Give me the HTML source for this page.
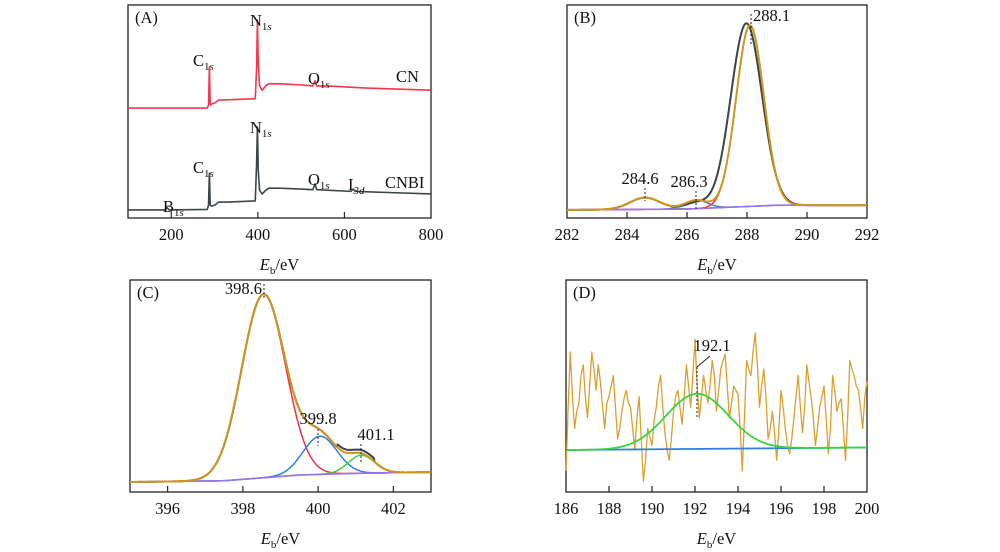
<!DOCTYPE html>
<html><head><meta charset="utf-8">
<style>
body{margin:0;background:#fff;}
svg{display:block;font-family:"Liberation Serif",serif;}
.tk{font-size:16.5px;fill:#111;}
</style></head>
<body>
<svg id="chart" width="1000" height="552" viewBox="0 0 1000 552">
</svg>
<script>
// ---- Panel A survey data (eV, intensity %) ----
const cnEv =  [100,283,286,288,290,293,300,310,330,394,397,399,401,404,410,418,425,450,500,527,532,536,560,650,800];
const cnInt = [51.6,51.6,53,71,53,53.5,54,55.4,55.5,56,70,93,72,62,60,62,63,63,62.5,62,64.5,62,62,61,60];
const cnbiEv =  [100,185,190,195,283,286,288,290,293,300,310,330,394,397,399,401,404,410,418,425,450,500,527,532,536,615,620,625,800];
const cnbiInt = [3.8,3.8,4.9,3.8,4,6,21,6,5.6,6,7.5,7.5,8,25,42.7,22,13,11.3,13,14,14,13.6,13.3,16,13.3,12.5,13.6,12.5,11.3];
// ---- Panel B C1s fit components ----
const bCenters = [284.6, 286.3, 288.1];
const bAmps = [5.5, 4, 85];
const bSigmas = [0.5, 0.38, 0.46];
const bBaseEv = [282, 286, 289, 292];
const bBaseInt = [3.8, 4.2, 6, 6];
// ---- Panel C N1s fit components ----
const cCenters = [398.55, 400.05, 401.15];
const cAmps = [86.5, 18, 8.5];
const cSigmas = [0.58, 0.45, 0.35];
const cBaseEv = [395, 397.5, 399.5, 401, 403];
const cBaseInt = [4.7, 5.3, 8, 8.8, 9.4];
// ---- Panel D B1s ----
const dCenter = 192.1, dAmp = 26, dSigma = 1.45;
const dBaseEv = [186, 200];
const dBaseInt = [19.8, 21];
const dRawStart = 186, dRawStep = 0.1;
const dRaw = [10,40,66,45,30,38,42,55,60,45,35,50,66,58,48,60,52,40,30,42,45,50,55,40,25,30,38,44,48,42,40,30,20,35,45,25,5,15,30,26,22,34,40,50,55,40,28,20,15,25,38,45,48,40,32,45,60,50,40,55,72,50,35,45,55,48,42,50,62,55,38,48,58,62,65,50,35,42,50,48,46,30,10,35,62,58,55,66,75,60,40,50,58,45,25,30,38,28,15,30,48,40,30,22,18,25,35,45,55,40,28,40,60,52,45,35,22,30,40,45,50,35,18,30,55,48,38,42,44,30,15,35,62,58,55,50,48,40,30,45,52];

const NS="http://www.w3.org/2000/svg";
const svg=document.getElementById('chart');
function mk(tag,attrs,parent){const e=document.createElementNS(NS,tag);for(const k in attrs)e.setAttribute(k,attrs[k]);(parent||svg).appendChild(e);return e;}
function interp(xs,ys,x){if(x<=xs[0])return ys[0];for(let i=1;i<xs.length;i++){if(x<=xs[i]){const t=(x-xs[i-1])/(xs[i]-xs[i-1]);return ys[i-1]+t*(ys[i]-ys[i-1]);}}return ys[ys.length-1];}
function gauss(x,c,a,s){return a*Math.exp(-0.5*((x-c)/s)**2);}

function panel(p){
  const g=mk('g',{});
  
  
  p.sx=v=>p.x0+(v-p.xmin)/(p.xmax-p.xmin)*(p.x1-p.x0);
  p.sy=v=>p.y1-v/100*(p.y1-p.y0);
  p.g=g;
  return p;
}
function frame(p){
  const r=mk('rect',{x:p.x0,y:p.y0,width:p.x1-p.x0,height:p.y1-p.y0,fill:'none',stroke:'#222','stroke-width':1.3},p.g);
  
  
  p.ticks.forEach(t=>{
    const x=p.sx(t);
    if(x>p.x0+1&&x<p.x1-1){const l=mk('line',{x1:x,x2:x,y1:p.y1,y2:p.y1-6,stroke:'#222','stroke-width':1.2},p.g);
    
    }
    const tx=mk('text',{x:x,y:p.y1+22,'text-anchor':'middle',class:'tk'},p.g);tx.textContent=t;
    
    
  });
  const at=mk('text',{x:(p.x0+p.x1)/2,y:p.y1+52,'text-anchor':'middle',class:'tk'},p.g);
  at.innerHTML='<tspan font-style="italic">E</tspan><tspan font-size="11" dy="4">b</tspan><tspan dy="-4">/eV</tspan>';
  
  
  const pl=mk('text',{x:p.x0+7,y:p.y0+18,class:'tk'},p.g);pl.textContent=p.label;
  
  
}
function line(p,pts,color,w,name){
  const d=pts.map((q,i)=>(i?'L':'M')+p.sx(q[0]).toFixed(2)+','+p.sy(q[1]).toFixed(2)).join('');
  const e=mk('path',{d:d,fill:'none',stroke:color,'stroke-width':w,'stroke-linejoin':'round'},p.g);
  
  
}
function sample(p,f,n){const a=[];for(let i=0;i<=n;i++){const x=p.xmin+(p.xmax-p.xmin)*i/n;a.push([x,f(x)]);}return a;}
function txt(p,x,y,html,anchor,name){const t=mk('text',{x:x,y:y,'text-anchor':anchor||'start',class:'tk'},p.g);t.innerHTML=html;
  
  }
function dash(p,x,ya,yb){const l=mk('line',{x1:x,x2:x,y1:ya,y2:yb,stroke:'#222','stroke-width':1,'stroke-dasharray':'2,2'},p.g);
  
  }
const sub=s=>'<tspan font-size="11" font-style="italic" dy="4">'+s+'</tspan>';
const sub1=s=>'<tspan font-size="11" dy="4">1<tspan font-style="italic">'+s+'</tspan></tspan>';

// Panel A
const A=panel({name:'panel-a-survey',label:'(A)',x0:128,x1:431,y0:5,y1:218,xmin:100,xmax:800,ticks:[200,400,600,800]});
frame(A);
line(A,cnEv.map((v,i)=>[v,cnInt[i]]),'#f0384e',1.6,'cn-spectrum');
line(A,cnbiEv.map((v,i)=>[v,cnbiInt[i]]),'#3c4448',1.6,'cnbi-spectrum');
txt(A,193,66,'C'+sub1('s'),'start','c1s-label-cn');
txt(A,250,26,'N'+sub1('s'),'start','n1s-label-cn');
txt(A,308,84,'O'+sub1('s'),'start','o1s-label-cn');
txt(A,396,82,'CN','start','cn-label');
txt(A,250,133,'N'+sub1('s'),'start','n1s-label-cnbi');
txt(A,193,173,'C'+sub1('s'),'start','c1s-label-cnbi');
txt(A,308,185,'O'+sub1('s'),'start','o1s-label-cnbi');
txt(A,348,190,'I'+sub('3d'),'start','i3d-label');
txt(A,385,188,'CNBI','start','cnbi-label');
txt(A,163,212,'B'+sub1('s'),'start','b1s-label');

// Panel B
const B=panel({name:'panel-b-c1s',label:'(B)',x0:567,x1:867,y0:5,y1:218,xmin:282,xmax:292,ticks:[282,284,286,288,290,292]});
frame(B);
const bBase=x=>interp(bBaseEv,bBaseInt,x);
const bFit=x=>bBase(x)+bCenters.reduce((s,c,i)=>s+gauss(x,c,bAmps[i],bSigmas[i]),0);
const bRaw=x=>bBase(x)+gauss(x,bCenters[0],bAmps[0],bSigmas[0])+gauss(x,bCenters[1],bAmps[1]*0.7,bSigmas[1])+gauss(x,bCenters[2]-0.12,bAmps[2]+1,bSigmas[2]+0.06);
line(B,sample(B,bRaw,400),'#3c4448',2,'c1s-raw');
line(B,sample(B,x=>bBase(x)+gauss(x,bCenters[0],bAmps[0],bSigmas[0]),300),'#3cd23c',1.4,'c1s-peak-284-6');
line(B,sample(B,x=>bBase(x)+gauss(x,bCenters[1],bAmps[1],bSigmas[1]),300),'#2f7fe0',1.4,'c1s-peak-286-3');
line(B,sample(B,x=>bBase(x)+gauss(x,bCenters[2],bAmps[2],bSigmas[2]),400),'#f0304a',1.4,'c1s-peak-288-1');
line(B,sample(B,bBase,50),'#9b6ff0',1.6,'c1s-background');
line(B,sample(B,bFit,400),'#cc9620',2,'c1s-fit');
txt(B,753,21,'288.1','start','label-288-1');dash(B,751,14,44);
txt(B,640,184,'284.6','middle','label-284-6');dash(B,645,188,201);
txt(B,689,187,'286.3','middle','label-286-3');dash(B,696,191,210);

// Panel C
const C=panel({name:'panel-c-n1s',label:'(C)',x0:130,x1:431,y0:280,y1:492,xmin:395,xmax:403,ticks:[396,398,400,402]});
frame(C);
const cBase=x=>interp(cBaseEv,cBaseInt,x);
const cFit=x=>cBase(x)+cCenters.reduce((s,c,i)=>s+gauss(x,c,cAmps[i],cSigmas[i]),0);
line(C,sample(C,x=>cFit(x)+(x>400.5&&x<401.5?1.5:0),400),'#3c4448',2,'n1s-raw');
line(C,sample(C,x=>cBase(x)+gauss(x,cCenters[0],cAmps[0],cSigmas[0]),400),'#f0304a',1.5,'n1s-peak-398-6');
line(C,sample(C,x=>cBase(x)+gauss(x,cCenters[1],cAmps[1],cSigmas[1]),300),'#2f7fe0',1.5,'n1s-peak-399-8');
line(C,sample(C,x=>cBase(x)+gauss(x,cCenters[2],cAmps[2],cSigmas[2]),300),'#3cd23c',1.5,'n1s-peak-401-1');
line(C,sample(C,cBase,50),'#9b6ff0',1.6,'n1s-background');
line(C,sample(C,cFit,400),'#cc9620',2,'n1s-fit');
txt(C,262,294,'398.6','end','label-398-6');dash(C,264,284,300);
txt(C,318,424,'399.8','middle','label-399-8');dash(C,318,429,446);
txt(C,376,440,'401.1','middle','label-401-1');dash(C,361,444,462);

// Panel D
const D=panel({name:'panel-d-b1s',label:'(D)',x0:566,x1:867,y0:280,y1:492,xmin:186,xmax:200,ticks:[186,188,190,192,194,196,198,200]});
frame(D);
line(D,dRaw.map((v,i)=>[dRawStart+i*dRawStep,v]),'#d9a030',1.3,'b1s-raw');
const dBase=x=>interp(dBaseEv,dBaseInt,x);
line(D,sample(D,dBase,20),'#2f7fe0',1.8,'b1s-background');
line(D,sample(D,x=>dBase(x)+gauss(x,dCenter,dAmp,dSigma),300),'#3cd23c',1.8,'b1s-peak-192-1');
txt(D,712,351,'192.1','middle','label-192-1');dash(D,697,367,418);
const sl=mk('line',{x1:697,y1:367,x2:710,y2:356,stroke:'#222','stroke-width':1},D.g);


</script>
</body></html>
